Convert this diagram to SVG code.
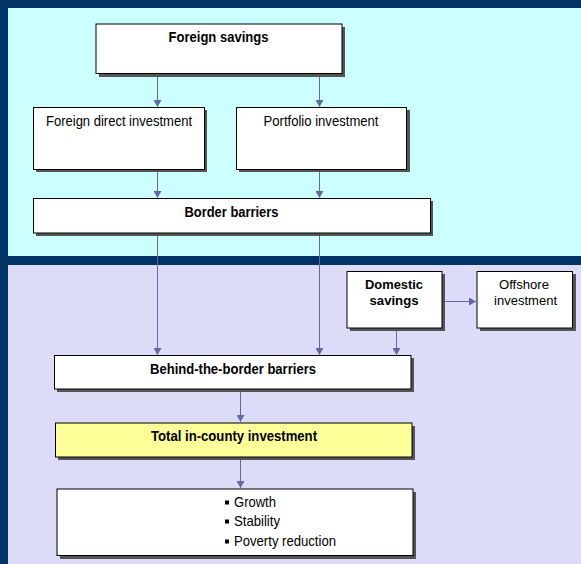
<svg xmlns="http://www.w3.org/2000/svg" width="581" height="564" viewBox="0 0 581 564">
<defs>
<marker id="ah" markerWidth="7" markerHeight="8" refX="7" refY="4" orient="auto" markerUnits="userSpaceOnUse">
<path d="M0,0 L7,4 L0,8 Z" fill="#6666A6"/>
</marker>
<style>
.box{fill:#fff;stroke:#000;stroke-width:1}
.yel{fill:#FFFF99;stroke:#000;stroke-width:1}
.sh{fill:#555}
.t{font-family:"Liberation Sans",Arial,sans-serif;font-size:15px;fill:#000;text-anchor:middle}
.s{font-size:13.5px}
.b{font-weight:bold}
.l{text-anchor:start}
.c{stroke:#6666A6;stroke-width:1;fill:none;marker-end:url(#ah)}
</style>
</defs>
<rect x="0" y="0" width="581" height="564" fill="#003366"/>
<rect x="8" y="8" width="573" height="248" fill="#CCFFFF"/>
<rect x="8" y="265" width="573" height="299" fill="#DCDCF8"/>

<g id="connectors">
<line class="c" x1="157.5" y1="74" x2="157.5" y2="107"/>
<line class="c" x1="319.5" y1="74" x2="319.5" y2="107"/>
<line class="c" x1="157.5" y1="170" x2="157.5" y2="198"/>
<line class="c" x1="319.5" y1="170" x2="319.5" y2="198"/>
<line class="c" x1="157.5" y1="234" x2="157.5" y2="355"/>
<line class="c" x1="319.5" y1="234" x2="319.5" y2="355"/>
<line class="c" x1="396.5" y1="329" x2="396.5" y2="355"/>
<line class="c" x1="443" y1="301.5" x2="476" y2="301.5"/>
<line class="c" x1="240.5" y1="390" x2="240.5" y2="422"/>
<line class="c" x1="240.5" y1="458" x2="240.5" y2="488"/>
</g>

<g id="foreign-savings">
<rect class="sh" x="99" y="27" width="246" height="50"/>
<rect class="box" x="96" y="24" width="246" height="49.5"/>
<text class="t b" x="218.5" y="42" textLength="100" lengthAdjust="spacingAndGlyphs">Foreign savings</text>
</g>
<g id="fdi">
<rect class="sh" x="36" y="110" width="171" height="62"/>
<rect class="box" x="33.5" y="107.5" width="171" height="62"/>
<text class="t" x="119" y="126" textLength="146" lengthAdjust="spacingAndGlyphs">Foreign direct investment</text>
</g>
<g id="portfolio">
<rect class="sh" x="239" y="110" width="171" height="62"/>
<rect class="box" x="236.5" y="107.5" width="170" height="62"/>
<text class="t" x="321" y="126" textLength="115" lengthAdjust="spacingAndGlyphs">Portfolio investment</text>
</g>
<g id="border-barriers">
<rect class="sh" x="36" y="201" width="397" height="35"/>
<rect class="box" x="33.5" y="198.5" width="397" height="34.5"/>
<text class="t b" x="231.5" y="217" textLength="94" lengthAdjust="spacingAndGlyphs">Border barriers</text>
</g>
<g id="domestic-savings">
<rect class="sh" x="350" y="274" width="95" height="57"/>
<rect class="box" x="347" y="271.5" width="95" height="56.5"/>
<text class="t s b" x="394" y="289" textLength="58" lengthAdjust="spacingAndGlyphs">Domestic</text>
<text class="t s b" x="394" y="305" textLength="49" lengthAdjust="spacingAndGlyphs">savings</text>
</g>
<g id="offshore-investment">
<rect class="sh" x="480" y="274" width="96" height="57"/>
<rect class="box" x="477" y="271.5" width="95.5" height="56.5"/>
<text class="t s" x="524" y="289" textLength="50" lengthAdjust="spacingAndGlyphs">Offshore</text>
<text class="t s" x="525.5" y="305" textLength="63" lengthAdjust="spacingAndGlyphs">investment</text>
</g>
<g id="behind-the-border">
<rect class="sh" x="57" y="358" width="357" height="34"/>
<rect class="box" x="54.5" y="355.5" width="356.5" height="33.5"/>
<text class="t b" x="233" y="373.5" textLength="166" lengthAdjust="spacingAndGlyphs">Behind-the-border barriers</text>
</g>
<g id="total-investment">
<rect class="sh" x="58" y="426" width="357" height="34"/>
<rect class="yel" x="55.5" y="423" width="356.5" height="34"/>
<text class="t b" x="234" y="440.5" textLength="166" lengthAdjust="spacingAndGlyphs">Total in-county investment</text>
</g>
<g id="outcomes">
<rect class="sh" x="60" y="492" width="356" height="67"/>
<rect class="box" x="57" y="489" width="356" height="66.5"/>
<rect x="225" y="500.5" width="4" height="4" fill="#000"/>
<rect x="225" y="519.5" width="4" height="4" fill="#000"/>
<rect x="225" y="539.5" width="4" height="4" fill="#000"/>
<text class="t l" x="234" y="506.5" textLength="42" lengthAdjust="spacingAndGlyphs">Growth</text>
<text class="t l" x="234" y="525.5" textLength="46" lengthAdjust="spacingAndGlyphs">Stability</text>
<text class="t l" x="234" y="545.5" textLength="102" lengthAdjust="spacingAndGlyphs">Poverty reduction</text>
</g>
</svg>
